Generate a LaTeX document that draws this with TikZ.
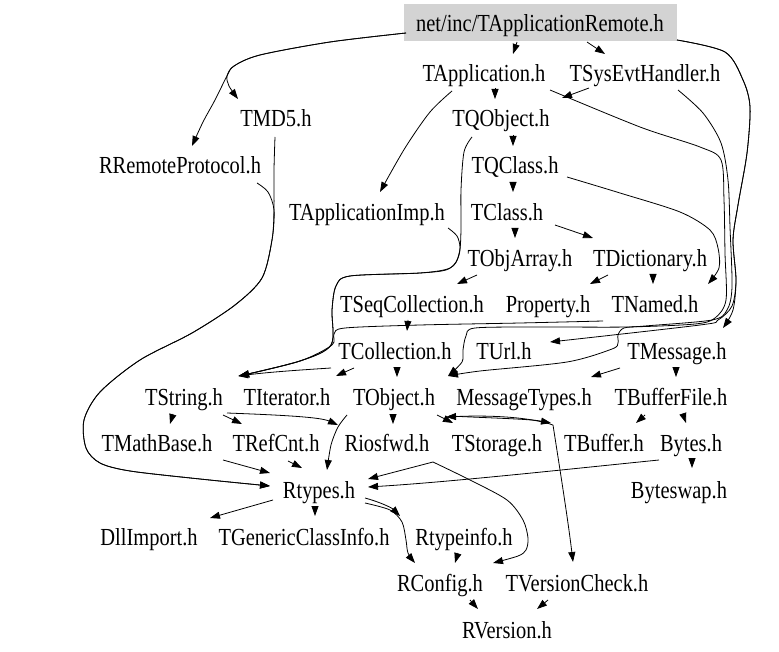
\documentclass[tikz,border=0pt]{standalone}
\usepackage{fontspec}
\newfontfamily\hfont{Liberation Serif}[FakeStretch=0.835]
\usetikzlibrary{arrows.meta,calc}
\definecolor{rootgray}{RGB}{211,211,211}
\begin{document}
\begin{tikzpicture}[x=1pt,y=-1pt,
  lbl/.style={inner sep=0pt,text height=16.5pt,text depth=0pt,font=\hfont\fontsize{24.5}{28}\selectfont},
  edge/.style={line width=0.8pt,-{Triangle[length=10pt,width=7pt]}},
  plain/.style={line width=0.8pt}]
\useasboundingbox (0,0) rectangle (779,652);
% nodes
\node[lbl,fill=rootgray,minimum width=273pt,minimum height=37pt] (root) at (540,23) {net/inc/TApplicationRemote.h};
\node[lbl] (tapp) at (484,73) {TApplication.h};
\node[lbl] (tsys) at (645,73) {TSysEvtHandler.h};
\node[lbl] (tmd5) at (276,118) {TMD5.h};
\node[lbl] (tqobj) at (501,118) {TQObject.h};
\node[lbl] (rremote) at (180,165) {RRemoteProtocol.h};
\node[lbl] (tqclass) at (515,165) {TQClass.h};
\node[lbl] (tappimp) at (367,212) {TApplicationImp.h};
\node[lbl] (tclass) at (507,212) {TClass.h};
\node[lbl] (tobjarr) at (520,258) {TObjArray.h};
\node[lbl] (tdict) at (650,258) {TDictionary.h};
\node[lbl] (tseq) at (412,304) {TSeqCollection.h};
\node[lbl] (prop) at (548,304) {Property.h};
\node[lbl] (tnamed) at (655,304) {TNamed.h};
\node[lbl] (tcoll) at (395,351) {TCollection.h};
\node[lbl] (turl) at (504,351) {TUrl.h};
\node[lbl] (tmsg) at (677,351) {TMessage.h};
\node[lbl] (tstring) at (184,397) {TString.h};
\node[lbl] (titer) at (287,397) {TIterator.h};
\node[lbl] (tobj) at (394,397) {TObject.h};
\node[lbl] (msgtypes) at (524,397) {MessageTypes.h};
\node[lbl] (tbuffile) at (671,397) {TBufferFile.h};
\node[lbl] (tmath) at (157,443) {TMathBase.h};
\node[lbl] (trefcnt) at (276,443) {TRefCnt.h};
\node[lbl] (riosfwd) at (387,443) {Riosfwd.h};
\node[lbl] (tstorage) at (497,443) {TStorage.h};
\node[lbl] (tbuffer) at (604,443) {TBuffer.h};
\node[lbl] (bytes) at (691,443) {Bytes.h};
\node[lbl] (rtypes) at (319,490) {Rtypes.h};
\node[lbl] (byteswap) at (679,490) {Byteswap.h};
\node[lbl] (dllimport) at (149,537) {DllImport.h};
\node[lbl] (tgci) at (304,537) {TGenericClassInfo.h};
\node[lbl] (rtypeinfo) at (464,537) {Rtypeinfo.h};
\node[lbl] (rconfig) at (440,583) {RConfig.h};
\node[lbl] (tvcheck) at (577,583) {TVersionCheck.h};
\node[lbl] (rversion) at (507,630) {RVersion.h};
% edges
\draw[edge] ($(root)+(-23,19)$) -- ($(tapp)+(29,-19)$);
\draw[edge] ($(root)+(47,19)$) -- ($(tsys)+(-40,-19)$);
\draw[edge] plot[smooth] coordinates {($(root)+(-134,10)$) (330,42) (260,55) (234,66) (227,76) (229,86) ($(tmd5)+(-38,-19)$)};
\draw[edge] plot[smooth] coordinates {($(root)+(-134,10)$) (330,42) (260,55) (234,66) (227,76) (215,100) (203,122) ($(rremote)+(12,-19)$)};
\draw[edge] plot[smooth] coordinates {($(tmd5)+(-1,19)$) (274,170) (274,210) (272,240) (262,278) (235,305) (192,333) (140,360) (100,392) (84,420) (86,448) (100,463) (130,471) (200,479) ($(rtypes)+(-49,-4)$)};
\draw[edge] plot[smooth] coordinates {($(rremote)+(77,18)$) (268,192) (274,210) (272,240) (262,278) (235,305) (192,333) (140,360) (100,392) (84,420) (86,448) (100,463) (130,471) (200,479) ($(rtypes)+(-49,-4)$)};
\draw[edge] ($(tapp)+(11,15)$) -- ($(tqobj)+(-6,-19)$);
\draw[edge] plot[smooth] coordinates {($(tapp)+(-32,18)$) (430,112) (405,148) ($(tappimp)+(13,-20)$)};
\draw[edge] plot[smooth] coordinates {($(tapp)+(66,17)$) (640,127) (700,147) (721,160) (724,200) (725,253) (726,300) (715,318) (695,324) (627,327) (540,327) (475,328) (466,336) (463,350) (462,362) ($(tobj)+(54,-21)$)};
\draw[edge] ($(tsys)+(-56,15)$) -- ($(tqobj)+(61,-20)$);
\draw[edge] plot[smooth] coordinates {($(tsys)+(33,17)$) (703,113) (721,143) (728,180) (730,227) (732,287) (727,310) (712,320) (645,326) (624,328) (618,335) (618,343) (612,349) (567,362) (480,371) ($(tobj)+(54,-21)$)};
\draw[edge] plot[smooth] coordinates {($(root)+(137,17)$) (725,52) (743,80) (750,107) (747,153) (738,205) (733,240) (736,280) (733,310) ($(tmsg)+(46,-23)$)};
\draw[edge] plot[smooth] coordinates {($(root)+(137,17)$) (725,52) (743,80) (750,107) (747,153) (738,205) (733,240) (736,280) (732,306) (718,320) (700,325) ($(turl)+(46,-9)$)};
\draw[edge] plot[smooth] coordinates {($(tqclass)+(52,12)$) (620,193) (680,212) (710,230) (718,248) (719,268) ($(tnamed)+(53,-20)$)};
\draw[edge] ($(tqobj)+(12,17)$) -- ($(tqclass)+(-2,-19)$);
\draw[edge] ($(tqclass)+(-2,17)$) -- ($(tclass)+(6,-20)$);
\draw[edge] plot[smooth] coordinates {($(tqobj)+(-29,19)$) (464,152) (461,190) (461,230) (459,255) (450,268) (420,273) (350,276) (336,286) (332,310) (331,345) (300,361) ($(tstring)+(55,-21)$)};
\draw[edge] plot[smooth] coordinates {($(tappimp)+(81,16)$) (457,236) (460,248) (456,262) (446,270) (420,273) (350,276) (336,286) (332,310) (331,345) (300,361) ($(tstring)+(55,-21)$)};
\draw[edge] ($(tclass)+(8,16)$) -- ($(tobjarr)+(-5,-20)$);
\draw[edge] ($(tclass)+(48,13)$) -- ($(tdict)+(-57,-20)$);
\draw[edge] ($(tobjarr)+(-43,17)$) -- ($(tseq)+(45,-20)$);
\draw[edge] ($(tdict)+(-42,17)$) -- ($(prop)+(42,-20)$);
\draw[edge] ($(tdict)+(3,16)$) -- ($(tnamed)+(-2,-20)$);
\draw[edge] ($(tseq)+(-4,16)$) -- ($(tcoll)+(12,-20)$);
\draw[edge] plot[smooth] coordinates {($(tnamed)+(-52,17)$) (520,323) (420,325) (345,328) (334,334) (332,345) (300,361) ($(tstring)+(55,-21)$)};
\draw[edge] ($(tcoll)+(-64,17)$) .. controls (300,370) and (270,372) .. ($(tstring)+(54,-21)$);
\draw[edge] ($(tcoll)+(-41,17)$) -- ($(titer)+(49,-21)$);
\draw[edge] ($(tcoll)+(2,16)$) -- ($(tobj)+(3,-20)$);
\draw[edge] ($(tmsg)+(-57,17)$) -- ($(msgtypes)+(67,-20)$);
\draw[edge] ($(tmsg)+(-1,16)$) -- ($(tbuffile)+(5,-20)$);
\draw[edge] ($(tstring)+(-11,17)$) -- ($(tmath)+(13,-19)$);
\draw[edge] ($(tstring)+(39,18)$) -- ($(trefcnt)+(-34,-19)$);
\draw[edge] ($(tstring)+(43,16)$) .. controls (280,415) and (320,417) .. ($(riosfwd)+(-49,-18)$);
\draw[edge] plot[smooth] coordinates {($(tobj)+(-47,18)$) (338,427) (331,445) ($(rtypes)+(8,-20)$)};
\draw[edge] ($(tobj)+(-1,17)$) -- ($(riosfwd)+(6,-19)$);
\draw[edge] ($(tobj)+(43,18)$) -- ($(tstorage)+(-44,-20)$);
\draw[edge] ($(tbuffer)+(-51,-18)$) .. controls (530,417) and (490,415) .. ($(tobj)+(52,20)$);
\draw[edge] ($(tobj)+(55,19)$) .. controls (490,418) and (530,419) .. ($(tbuffer)+(-53,-20)$);
\draw[edge] ($(tbuffer)+(-51,-18)$) .. controls (560,470) and (568,520) .. ($(tvcheck)+(-4,-21)$);
\draw[edge] ($(tmath)+(66,17)$) -- ($(rtypes)+(-49,-17)$);
\draw[edge] ($(trefcnt)+(12,18)$) -- ($(rtypes)+(-17,-22)$);
\draw[edge] ($(tstorage)+(-64,19)$) -- ($(rtypes)+(49,-11)$);
\draw[edge] plot[smooth] coordinates {($(tstorage)+(-64,19)$) (470,480) (507,500) (523,520) (528,538) (526,550) (518,556) ($(rconfig)+(53,-20)$)};
\draw[edge] ($(bytes)+(1,16)$) -- ($(byteswap)+(13,-22)$);
\draw[edge] ($(bytes)+(-32,17)$) .. controls (560,470) and (450,482) .. ($(rtypes)+(49,-3)$);
\draw[edge] ($(tbuffile)+(-26,18)$) -- ($(tbuffer)+(32,-20)$);
\draw[edge] ($(tbuffile)+(12,17)$) -- ($(bytes)+(-5,-20)$);
\draw[edge] ($(rtypes)+(-46,10)$) -- ($(dllimport)+(61,-19)$);
\draw[edge] ($(rtypes)+(-4,16)$) -- ($(tgci)+(11,-21)$);
\draw[edge] ($(rtypes)+(46,8)$) .. controls (380,502) and (392,508) .. ($(rtypeinfo)+(-64,-21)$);
\draw[edge] plot[smooth] coordinates {($(rtypes)+(46,13)$) (390,510) (402,522) (406,540) (408,553) ($(rconfig)+(-25,-20)$)};
\draw[edge] ($(rtypeinfo)+(-6,16)$) -- ($(rconfig)+(15,-20)$);
\draw[edge] ($(rconfig)+(30,17)$) -- ($(rversion)+(-29,-21)$);
\draw[edge] ($(tvcheck)+(-29,17)$) -- ($(rversion)+(30,-21)$);
\end{tikzpicture}
\end{document}
